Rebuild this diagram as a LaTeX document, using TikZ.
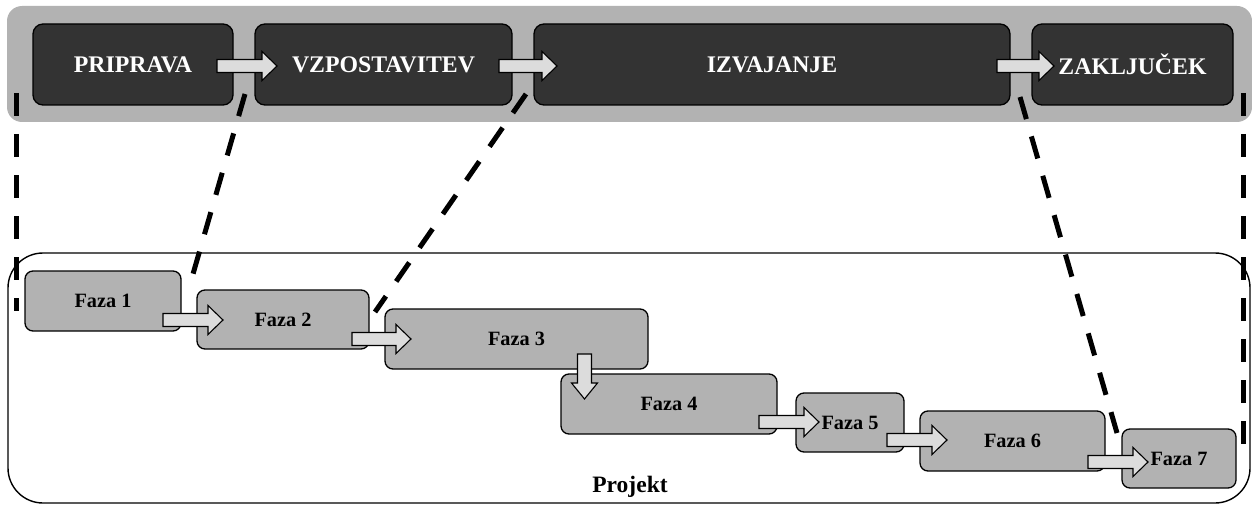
\documentclass[tikz,border=0pt]{standalone}
\usepackage{fontspec}
\setmainfont{Liberation Serif}[BoldFont={Liberation Serif Bold}]
\begin{document}
\begin{tikzpicture}[x=1pt,y=-1pt,
  band/.style={fill=bandgray,draw=none,rounded corners=15pt},
  phasebox/.style={fill=darkgray3,draw=black,line width=1.3pt,rounded corners=10pt,
    text=white,font=\bfseries\fontsize{23.8}{26}\selectfont,inner sep=0pt},
  fazabox/.style={fill=bandgray,draw=black,line width=1.3pt,rounded corners=8pt,
    font=\bfseries\fontsize{20.3}{22}\selectfont,inner sep=0pt},
  projbox/.style={draw=black,line width=1.4pt,rounded corners=35pt},
  arrowbox/.style={fill=arrowgray,draw=black,line width=1.1pt,line join=miter},
  zoomline/.style={draw=black,line width=5pt,dash pattern=on 23pt off 18pt}]
\definecolor{bandgray}{HTML}{B2B2B2}
\definecolor{darkgray3}{HTML}{333333}
\definecolor{arrowgray}{HTML}{DCDCDC}
% horizontal block arrow: start x, tip x, centre y
\newcommand{\harrow}[3]{%
  \draw[arrowbox] (#1,#3-6.5) -- (#2-15,#3-6.5) -- (#2-15,#3-14.5) -- (#2,#3)
    -- (#2-15,#3+14.5) -- (#2-15,#3+6.5) -- (#1,#3+6.5) -- cycle;}
\useasboundingbox (0,0) rectangle (1252,508);

% life-cycle band
\path[band] (7,6) rectangle (1252,122);
\node[phasebox,minimum width=200pt,minimum height=81pt] (prip) at (133,64.5) {PRIPRAVA};
\node[phasebox,minimum width=257pt,minimum height=81pt] (vzp) at (383.5,64.5) {VZPOSTAVITEV};
\node[phasebox,minimum width=476pt,minimum height=81pt] (izv) at (772,64.5) {IZVAJANJE};
\node[phasebox,minimum width=201pt,minimum height=81pt] (zak) at (1132.5,64.5) {ZAKLJUČEK};
\harrow{217}{277}{66}
\harrow{499}{557}{66}
\harrow{997}{1054}{66}

% project frame
\draw[projbox] (8,253) rectangle (1250,503);
\node[font=\bfseries\fontsize{23.5}{25}\selectfont] (proj) at (630,487) {Projekt};

% phases of the project
\node[fazabox,minimum width=156pt,minimum height=60pt] (f1) at (103,301) {Faza 1};
\node[fazabox,minimum width=172pt,minimum height=59pt] (f2) at (283,319.5) {Faza 2};
\node[fazabox,minimum width=263pt,minimum height=60pt] (f3) at (516.5,339) {Faza 3};
\node[fazabox,minimum width=216pt,minimum height=60pt] (f4) at (669,404) {Faza 4};
\node[fazabox,minimum width=108pt,minimum height=59pt] (f5) at (850,422.5) {Faza 5};
\node[fazabox,minimum width=185pt,minimum height=60pt] (f6) at (1012.5,441) {Faza 6};
\node[fazabox,minimum width=114pt,minimum height=59pt] (f7) at (1179,458.5) {Faza 7};
\harrow{163}{223}{320}
\harrow{352}{411}{339}
\draw[arrowbox] (577.5,354) -- (591.5,354) -- (591.5,383) -- (597.5,383) -- (584.5,399)
  -- (571.5,383) -- (577.5,383) -- cycle;
\harrow{759}{819}{422}
\harrow{887}{947}{440}
\harrow{1088}{1148}{462}

% zoom lines between the band and the project
\coordinate (lt) at (16,93);    \coordinate (lb) at (16,311);
\coordinate (rt) at (1243,93);  \coordinate (rb) at (1243,445);
\coordinate (d1t) at (245,94);  \coordinate (d1b) at (193,274);
\coordinate (d2t) at (526,94);  \coordinate (d2b) at (375,312);
\coordinate (d3t) at (1020,97); \coordinate (d3b) at (1117,433);
\draw[zoomline] (lt) -- (lb);
\draw[zoomline] (rt) -- (rb);
\draw[zoomline] (d1t) -- (d1b);
\draw[zoomline] (d2t) -- (d2b);
\draw[zoomline] (d3t) -- (d3b);
\end{tikzpicture}
\end{document}
